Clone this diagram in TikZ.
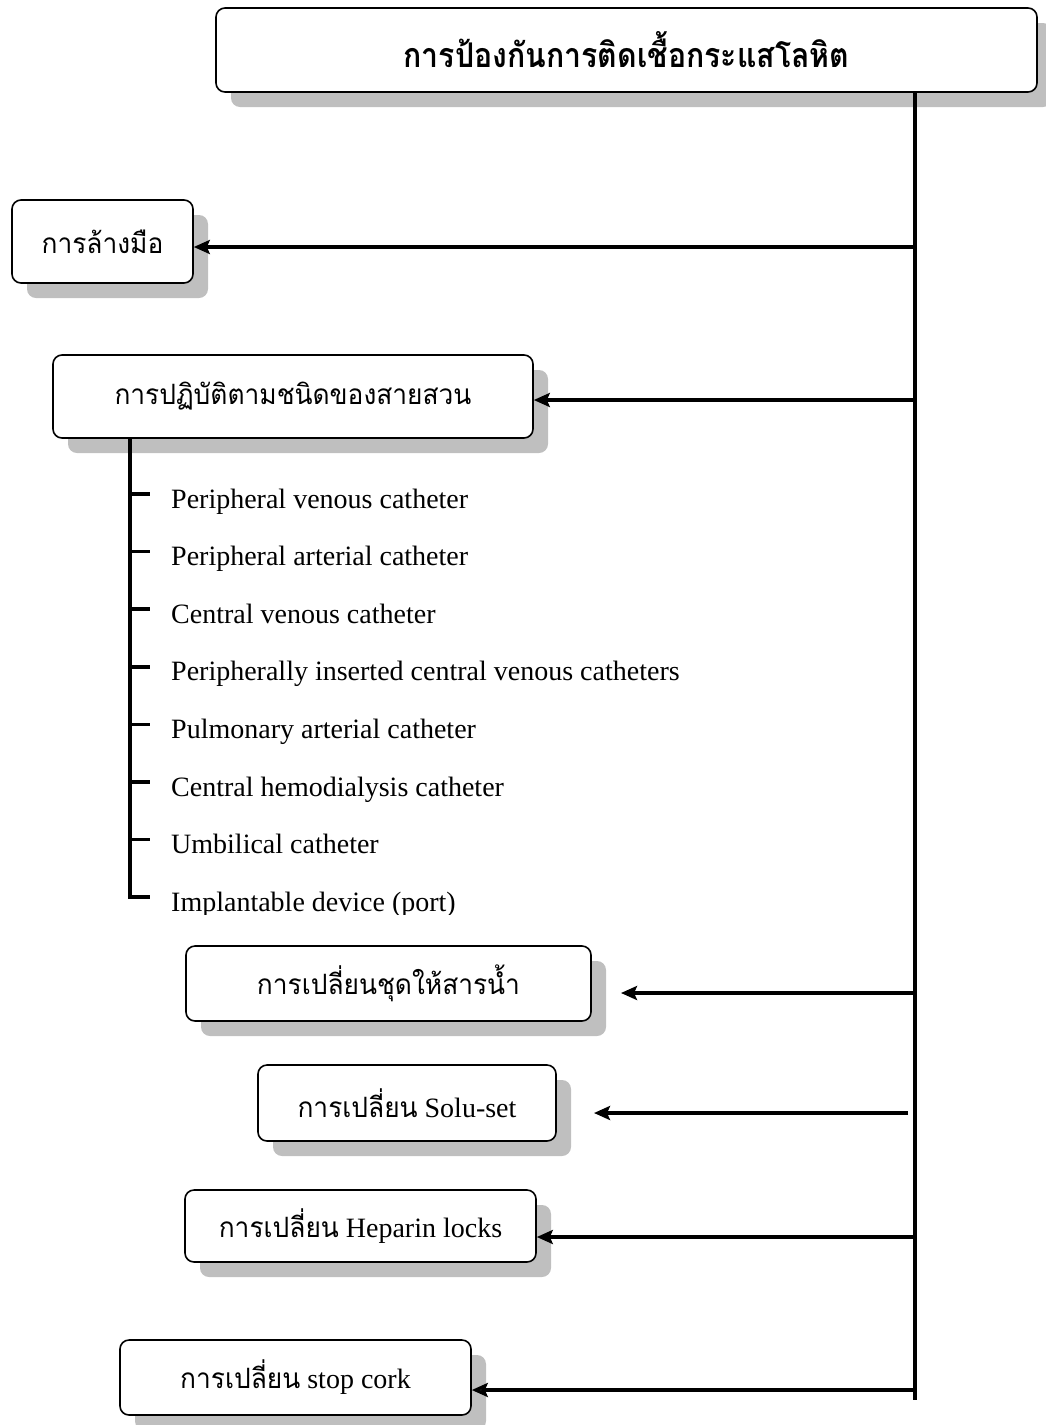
\documentclass[tikz,border=0pt]{standalone}
\usepackage{fontspec}
\setmainfont{Liberation Serif}
\newfontfamily\thaif[Script=Thai, FakeStretch=0.94]{Loma}
\newfontfamily\thaititle[Script=Thai, FakeStretch=0.89]{Loma}
\usetikzlibrary{arrows.meta,shadows}
\begin{document}
\begin{tikzpicture}[x=1pt,y=-1pt,
  box/.style={draw, line width=1.6pt, rounded corners=9pt, fill=white, inner sep=0pt,
    drop shadow={shadow xshift=15pt, shadow yshift=-15pt, fill=black!25, opacity=1, draw=none}},
  thtxt/.style={font=\thaif\fontsize{28}{34}\selectfont},
  entxt/.style={font=\fontsize{28}{32}\selectfont},
  trunk/.style={line width=3.6pt},
  arr/.style={line width=3.6pt, -{Stealth[length=16pt, width=14pt, inset=3pt]}},
  tick/.style={line width=3.6pt}]
\useasboundingbox (0,0) rectangle (1045,1425);

\node[box, minimum width=821pt, minimum height=84pt, font=\thaititle\bfseries\fontsize{34}{40}\selectfont] (title) at (626.5,50) {การป้องกันการติดเชื้อกระแสโลหิต};
\node[box, thtxt, minimum width=181pt, minimum height=83pt] (hand) at (102.5,241.5) {การล้างมือ};
\node[box, thtxt, minimum width=480pt, minimum height=83pt] (practice) at (293,396.5) {การปฏิบัติตามชนิดของสายสวน};
\node[box, thtxt, minimum width=405pt, minimum height=75pt] (iv) at (388.5,983.5) {การเปลี่ยนชุดให้สารน้ำ};
\node[box, entxt, minimum width=298pt, minimum height=76pt] (solu) at (407,1103) {{\thaif\fontsize{28}{34}\selectfont การเปลี่ยน} Solu-set};
\node[box, entxt, minimum width=351pt, minimum height=72pt] (hep) at (360.5,1226) {{\thaif\fontsize{28}{34}\selectfont การเปลี่ยน} Heparin locks};
\node[box, entxt, minimum width=351pt, minimum height=75pt] (stop) at (295.5,1377.5) {{\thaif\fontsize{28}{34}\selectfont การเปลี่ยน} stop cork};

% trunk
\coordinate (tx) at (915,0);
\coordinate (bottom) at (915,1400);
\draw[trunk] (title.south -| tx) -- (bottom);

\coordinate (b1) at (915,247);
\coordinate (b2) at (915,400);
\coordinate (b3) at (915,993);
\coordinate (e3) at (621,993);
\coordinate (b4) at (908,1113);
\coordinate (e4) at (594,1113);
\coordinate (b5) at (915,1237);
\coordinate (b6) at (915,1390);
\draw[arr] (b1) -- (b1 -| hand.east);
\draw[arr] (b2) -- (b2 -| practice.east);
\draw[arr] (b3) -- (e3);
\draw[arr] (b4) -- (e4);
\draw[arr] (b5) -- (b5 -| hep.east);
\draw[line width=3.6pt, -{Stealth[length=16pt, width=14pt, inset=3pt, fill=black!70]}] (b6) -- (b6 -| stop.east);

% sub list
\coordinate (sx) at (130,0);
\coordinate (send) at (130,899);
\draw[trunk] (practice.south -| sx) -- (send);
\foreach \t [count=\i] in {Peripheral venous catheter, Peripheral arterial catheter, Central venous catheter, Peripherally inserted central venous catheters, Pulmonary arterial catheter, Central hemodialysis catheter, Umbilical catheter}{
  \pgfmathsetmacro{\yy}{494+(\i-1)*57.6}
  \coordinate (t\i a) at (130,\yy);
  \coordinate (t\i b) at (150,\yy);
  \draw[tick] (t\i a) -- (t\i b);
  \node[entxt, anchor=base west, inner sep=0pt] (item\i) at (171,\yy+14) {\t};
}
\coordinate (t8a) at (128.2,897);
\coordinate (t8b) at (150,897);
\draw[tick] (t8a) -- (t8b);
\begin{scope}
\clip (160,860) rectangle (720,914);
\node[entxt, anchor=base west, inner sep=0pt] (item8) at (171,911) {Implantable device (port)};
\end{scope}
\end{tikzpicture}
\end{document}
